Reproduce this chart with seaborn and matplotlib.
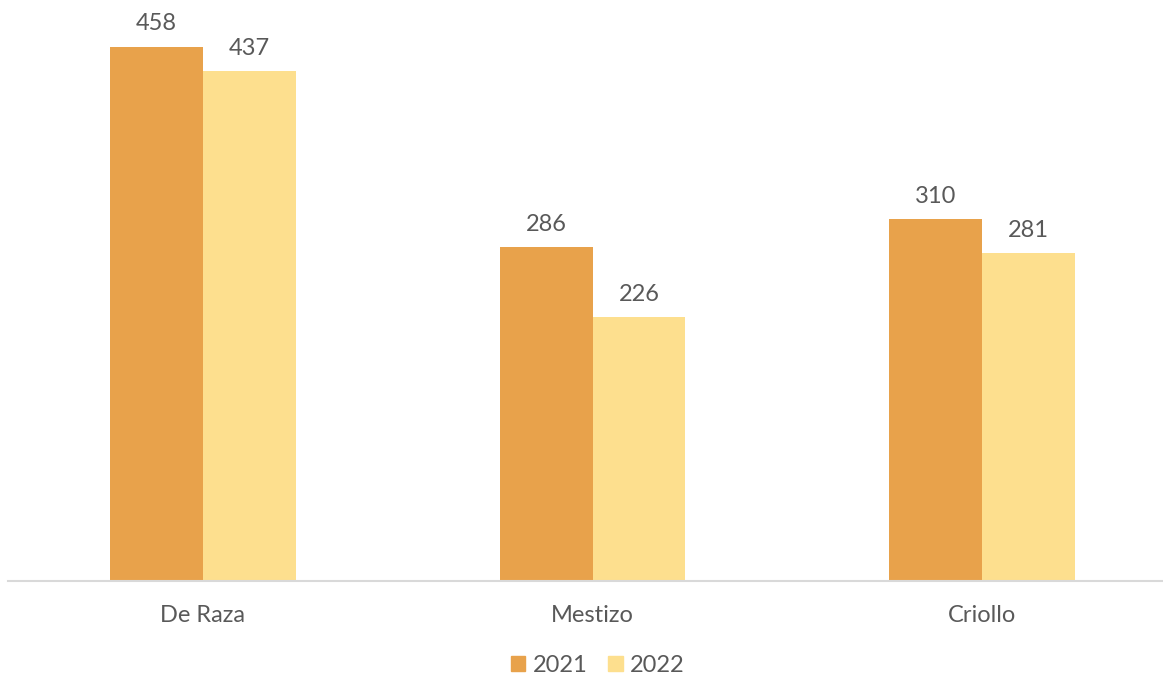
import pandas as pd
import seaborn as sns
import matplotlib.pyplot as plt

categories = ['De Raza', 'Mestizo', 'Criollo']
years = ['2021', '2022']
values_2021 = [458, 286, 310]
values_2022 = [437, 226, 281]

df = pd.DataFrame({
    'Categoria': categories * 2,
    'Año': [years[0]] * 3 + [years[1]] * 3,
    'Valor': values_2021 + values_2022,
})

sns.set_style('white')
plt.rcParams['font.family'] = ['Lato', 'DejaVu Sans']
text_color = '#595959'
palette = {'2021': '#E8A24B', '2022': '#FDDF8E'}

fig = plt.figure(figsize=(11.63, 6.76), dpi=100)
ax = fig.add_axes([8 / 1163, (676 - 581) / 676, (1163 - 8) / 1163, 581 / 676])

sns.barplot(data=df, x='Categoria', y='Valor', hue='Año', palette=palette,
            width=0.477, gap=0, saturation=1, linewidth=0, ax=ax, legend=False)

for container in ax.containers:
    ax.bar_label(container, padding=9, fontsize=17, color=text_color)

ax.set_xlim(-0.5, 2.464)
ax.set_ylim(0, 498)
ax.set_xlabel('')
ax.set_ylabel('')
ax.set_yticks([])
ax.tick_params(axis='x', length=0, pad=17, labelsize=17, labelcolor=text_color)
for side in ['top', 'right', 'left']:
    ax.spines[side].set_visible(False)
ax.spines['bottom'].set_color('#D9D9D9')
ax.spines['bottom'].set_linewidth(1.5)

handles = [plt.Rectangle((0, 0), 1, 1, color=palette[y]) for y in years]
fig.legend(handles, years, loc='center', bbox_to_anchor=(0.514, 1 - 665 / 676),
           ncol=2, frameon=False, fontsize=17, labelcolor=text_color,
           handlelength=0.6, handleheight=0.6, handletextpad=0.3, columnspacing=0.9)

plt.savefig('out.png', dpi=100)
plt.close()
